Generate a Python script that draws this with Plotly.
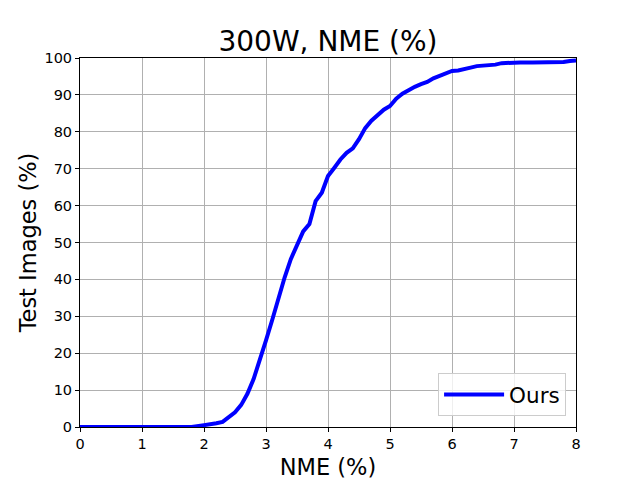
import plotly.graph_objects as go

nme = [0.0, 0.5, 1.0, 1.5, 1.8, 2.0, 2.1, 2.2, 2.3, 2.4, 2.5, 2.6, 2.7, 2.8, 2.9, 3.0,
       3.1, 3.2, 3.3, 3.4, 3.5, 3.6, 3.7, 3.8, 3.9, 4.0, 4.1, 4.2, 4.3, 4.4, 4.5,
       4.6, 4.7, 4.8, 4.9, 5.0, 5.1, 5.2, 5.3, 5.4, 5.5, 5.6, 5.7, 5.8, 5.9, 6.0,
       6.1, 6.2, 6.3, 6.4, 6.5, 6.6, 6.7, 6.8, 6.9, 7.0, 7.1, 7.3, 7.5, 7.7, 7.8, 7.9, 8.0]
images = [0.0, 0.0, 0.0, 0.0, 0.0, 0.5, 0.7, 1.0, 1.4, 2.6, 4.0, 6.0, 9.0, 13.0, 18.0, 23.5,
          29.0, 35.0, 40.5, 45.5, 49.5, 53.0, 55.0, 61.2, 63.5, 68.0, 70.2, 72.5, 74.3, 75.5, 78.0,
          81.0, 83.0, 84.5, 86.0, 87.0, 89.0, 90.3, 91.3, 92.2, 92.9, 93.5, 94.5, 95.2, 96.0, 96.5,
          96.6, 96.9, 97.4, 97.8, 97.9, 98.1, 98.2, 98.6, 98.7, 98.7, 98.8, 98.8, 98.8, 98.8, 98.9, 99.2, 99.3]

x_ticks = [0, 1, 2, 3, 4, 5, 6, 7, 8]
y_ticks = [0, 10, 20, 30, 40, 50, 60, 70, 80, 90, 100]

fig = go.Figure()
fig.add_trace(go.Scatter(x=nme, y=images, mode="lines", name="Ours",
                         line=dict(color="#0000ff", width=4)))

axis_common = dict(showline=True, linecolor="black", linewidth=1, mirror=True,
                   ticks="outside", ticklen=4, tickcolor="black",
                   showgrid=True, gridcolor="#b0b0b0", gridwidth=1, automargin=False,
                   zeroline=False, tickfont=dict(size=14.5, color="black"))

fig.update_layout(
    width=640, height=480,
    margin=dict(l=80, r=64, t=58, b=53),
    paper_bgcolor="white", plot_bgcolor="white",
    font=dict(family="DejaVu Sans", color="black"),
    title=dict(text="300W, NME (%)", x=0.5, xanchor="center", xref="paper",
               y=0.915, yanchor="middle", font=dict(size=28)),
    xaxis=dict(range=[0, 8], tickvals=x_ticks, ticktext=[str(v) for v in x_ticks],
               title=dict(text="NME (%)", font=dict(size=22.5), standoff=8), **axis_common),
    yaxis=dict(range=[0, 100], tickvals=y_ticks, ticktext=[str(v) for v in y_ticks],
               title=dict(text="Test Images (%)", font=dict(size=22.5), standoff=1), **axis_common),
    showlegend=True,
    legend=dict(x=0.98, y=0.03, xanchor="right", yanchor="bottom",
                bgcolor="rgba(255,255,255,0.8)", bordercolor="#cccccc", borderwidth=1,
                font=dict(size=21.5), itemwidth=60, entrywidth=125),
)

fig.write_html("out.html")
